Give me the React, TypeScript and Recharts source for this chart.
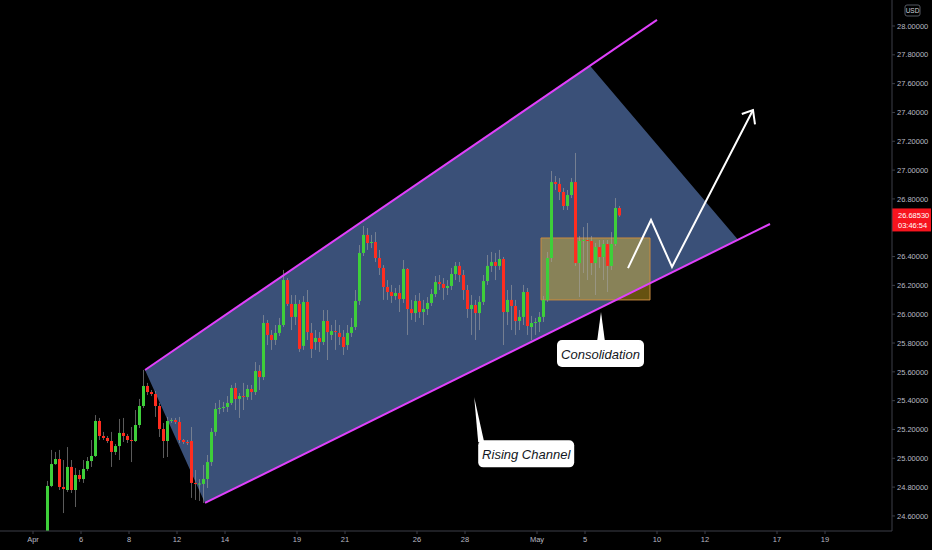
import React from "react";
import {
  ComposedChart,
  Bar,
  Area,
  Line,
  XAxis,
  YAxis,
  ReferenceArea,
  ReferenceLine,
  ReferenceDot,
} from "recharts";

const WIDTH = 932;
const HEIGHT = 550;

const BG = "#000000";
const UP = "#3ecf3a";
const DOWN = "#ff2d1f";
const WICK = "rgba(165,165,165,0.55)";
const CHANNEL = "#e040fb";
const SHADE = "#3a5078";
const AXIS = "#3c3f48";
const TEXT = "#b8bbc4";
const FONT = "'Liberation Sans', Arial, sans-serif";

// 4h bars, six per trading day. First visible bar is number 4.
const firstBar = 4;
const barsPerDay = 6;
// [open, high, low, close]
const bars: [number, number, number, number][] = [
  [24.4, 24.843, 24.38, 24.808],
  [24.808, 25.058, 24.8, 24.96],
  [24.96, 25.044, 24.955, 24.995],
  [24.995, 25.058, 24.78, 24.801],
  [24.801, 24.988, 24.62, 24.787],
  [24.78, 25.078, 24.766, 24.94],
  [24.94, 24.988, 24.759, 24.78],
  [24.78, 24.933, 24.662, 24.884],
  [24.884, 24.919, 24.836, 24.856],
  [24.856, 24.988, 24.829, 24.926],
  [24.926, 25.009, 24.912, 24.981],
  [24.981, 25.127, 24.94, 25.016],
  [25.016, 25.3, 25.009, 25.259],
  [25.259, 25.28, 25.127, 25.155],
  [25.155, 25.183, 25.127, 25.141],
  [25.141, 25.155, 25.106, 25.12],
  [25.12, 25.183, 24.94, 25.044],
  [25.044, 25.099, 25.023, 25.085],
  [25.085, 25.273, 24.988, 25.176],
  [25.176, 25.28, 25.113, 25.155],
  [25.155, 25.169, 25.106, 25.127],
  [25.127, 25.217, 24.974, 25.12],
  [25.12, 25.335, 25.113, 25.231],
  [25.231, 25.412, 25.21, 25.363],
  [25.363, 25.613, 25.349, 25.502],
  [25.502, 25.523, 25.439, 25.46],
  [25.46, 25.474, 25.432, 25.446],
  [25.446, 25.467, 25.287, 25.363],
  [25.363, 25.384, 25.148, 25.203],
  [25.203, 25.245, 25.002, 25.12],
  [25.12, 25.287, 25.009, 25.259],
  [25.259, 25.28, 25.245, 25.266],
  [25.266, 25.28, 25.238, 25.252],
  [25.252, 25.287, 25.106, 25.127],
  [25.127, 25.134, 25.099, 25.113],
  [25.113, 25.127, 25.092, 25.106],
  [25.12, 25.217, 24.725, 24.829],
  [24.829, 24.919, 24.711, 24.822],
  [24.822, 24.856, 24.704, 24.825],
  [24.822, 24.954, 24.69, 24.856],
  [24.856, 25.023, 24.794, 24.974],
  [24.974, 25.21, 24.947, 25.183],
  [25.183, 25.384, 25.155, 25.342],
  [25.342, 25.405, 25.307, 25.349],
  [25.349, 25.391, 25.321, 25.356],
  [25.356, 25.432, 25.321, 25.384],
  [25.384, 25.509, 25.37, 25.488],
  [25.488, 25.523, 25.335, 25.412],
  [25.412, 25.453, 25.28, 25.432],
  [25.432, 25.523, 25.335, 25.425],
  [25.425, 25.509, 25.405, 25.481],
  [25.481, 25.509, 25.405, 25.46],
  [25.46, 25.668, 25.439, 25.606],
  [25.606, 25.647, 25.474, 25.564],
  [25.564, 25.994, 25.543, 25.939],
  [25.939, 25.96, 25.786, 25.856],
  [25.856, 25.89, 25.752, 25.821],
  [25.821, 25.925, 25.786, 25.87],
  [25.87, 25.974, 25.849, 25.925],
  [25.925, 26.307, 25.911, 26.237],
  [26.237, 26.251, 26.057, 26.071],
  [26.071, 26.133, 25.89, 25.981],
  [25.981, 26.133, 25.925, 26.071],
  [26.071, 26.099, 25.738, 25.759],
  [25.78, 26.126, 25.752, 26.085],
  [26.085, 26.168, 25.821, 25.876],
  [25.87, 25.939, 25.696, 25.759],
  [25.807, 25.89, 25.752, 25.835],
  [25.835, 25.876, 25.738, 25.807],
  [25.807, 26.029, 25.786, 25.953],
  [25.953, 26.029, 25.682, 25.876],
  [25.856, 25.925, 25.821, 25.883],
  [25.883, 25.96, 25.752, 25.876],
  [25.87, 25.925, 25.786, 25.842],
  [25.842, 25.89, 25.717, 25.772],
  [25.786, 25.925, 25.752, 25.87],
  [25.87, 25.974, 25.842, 25.911],
  [25.911, 26.168, 25.89, 26.092],
  [26.092, 26.48, 26.064, 26.425],
  [26.425, 26.612, 26.404, 26.55],
  [26.55, 26.598, 26.446, 26.494],
  [26.494, 26.55, 26.459, 26.501],
  [26.501, 26.57, 26.362, 26.39],
  [26.39, 26.446, 26.272, 26.321],
  [26.321, 26.341, 26.099, 26.189],
  [26.189, 26.237, 26.099, 26.154],
  [26.154, 26.203, 26.078, 26.126],
  [26.126, 26.182, 26.099, 26.147],
  [26.147, 26.203, 26.015, 26.105],
  [26.105, 26.376, 26.078, 26.314],
  [26.314, 26.321, 25.856, 26.036],
  [26.036, 26.099, 25.96, 26.008],
  [26.008, 26.133, 25.946, 26.092],
  [26.092, 26.147, 25.974, 26.015],
  [26.015, 26.099, 25.925, 26.036],
  [26.036, 26.119, 25.994, 26.078],
  [26.078, 26.175, 26.057, 26.14],
  [26.14, 26.265, 26.119, 26.223],
  [26.223, 26.272, 26.168, 26.21],
  [26.21, 26.251, 26.099, 26.182],
  [26.182, 26.237, 26.133, 26.196],
  [26.196, 26.321, 26.168, 26.279],
  [26.279, 26.362, 26.237, 26.335],
  [26.335, 26.362, 26.223, 26.272],
  [26.272, 26.307, 26.099, 26.168],
  [26.168, 26.203, 25.974, 26.036],
  [26.036, 26.133, 25.856, 26.064],
  [26.064, 26.099, 25.821, 26.008],
  [26.008, 26.126, 25.89, 26.085],
  [26.085, 26.272, 26.064, 26.23],
  [26.23, 26.411, 26.203, 26.335],
  [26.335, 26.432, 26.293, 26.362],
  [26.362, 26.425, 26.237, 26.335],
  [26.335, 26.446, 26.307, 26.383],
  [26.383, 26.397, 25.786, 26.015],
  [26.015, 26.168, 25.925, 26.099],
  [26.099, 26.203, 25.89, 26.057],
  [26.057, 26.099, 25.856, 25.953],
  [25.953, 26.029, 25.89, 25.981],
  [25.981, 26.203, 25.925, 26.154],
  [26.154, 26.182, 25.856, 25.918],
  [25.911, 25.988, 25.821, 25.939],
  [25.939, 25.974, 25.856, 25.946],
  [25.946, 26.015, 25.876, 25.981],
  [25.981, 26.126, 25.946, 26.099],
  [26.099, 26.432, 26.085, 26.39],
  [26.39, 26.994, 26.362, 26.917],
  [26.917, 26.959, 26.862, 26.904],
  [26.904, 26.945, 26.792, 26.848],
  [26.848, 26.876, 26.723, 26.751],
  [26.751, 26.862, 26.723, 26.827],
  [26.827, 26.945, 26.806, 26.917],
  [26.917, 27.119, 26.335, 26.355],
  [26.355, 26.543, 26.119, 26.508],
  [26.508, 26.605, 26.286, 26.515],
  [26.515, 26.633, 26.237, 26.508],
  [26.508, 26.543, 26.272, 26.355],
  [26.355, 26.494, 26.133, 26.466],
  [26.466, 26.515, 26.321, 26.397],
  [26.397, 26.515, 26.237, 26.487],
  [26.487, 26.515, 26.154, 26.335],
  [26.335, 26.57, 26.307, 26.487],
  [26.487, 26.806, 26.473, 26.737],
  [26.737, 26.751, 26.675, 26.6853],
];

const lastPrice = 26.6853;
const countdown = "03:46:54";

// trading-day numbers (from Apr 1) that carry a date label
const tickDays = [0, 2, 4, 6, 8, 11, 13, 16, 18, 21, 23, 26, 28, 31, 33];
const tickLabels = ["Apr", "6", "8", "12", "14", "19", "21", "26", "28", "May", "5", "10", "12", "17", "19"];

const priceTicks = [
  28.0, 27.8, 27.6, 27.4, 27.2, 27.0, 26.8, 26.4, 26.2, 26.0, 25.8, 25.6, 25.4, 25.2, 25.0, 24.8, 24.6,
];

// drawings, as [bar index, price]
const upperLine: [number, number][] = [[28.5, 25.613], [156.5, 28.042]];
const lowerLine: [number, number][] = [[43.5, 24.69], [184.75, 26.626]];
const shadeTopEnd = 139.75;
const shadeRightEnd = 176.75;

const boxBars = [127.5, 154.75];
const boxPrices = [26.099, 26.529];

const projection: [number, number][] = [[149.25, 26.32], [155, 26.654], [160.25, 26.328], [180.5, 27.417]];
const arrowHead: [number, number][] = [[177.7, 27.389], [180.5, 27.417], [181, 27.318]];

const consolidationTip: [number, number] = [142.5, 26.015];
const channelTip: [number, number] = [110.8, 25.423];

const candles = bars.map(([o, h, l, c], k) => ({ i: firstBar + k, o, h, l, c, range: [l, h] }));

const onLine = (line: [number, number][], i: number) =>
  line[0][1] + ((i - line[0][0]) * (line[1][1] - line[0][1])) / (line[1][0] - line[0][0]);

const shade = [
  { i: upperLine[0][0], band: [upperLine[0][1], upperLine[0][1]] },
  { i: lowerLine[0][0], band: [lowerLine[0][1], onLine(upperLine, lowerLine[0][0])] },
  { i: shadeTopEnd, band: [onLine(lowerLine, shadeTopEnd), onLine(upperLine, shadeTopEnd)] },
  { i: shadeRightEnd, band: [onLine(lowerLine, shadeRightEnd), onLine(lowerLine, shadeRightEnd)] },
];

const toPts = (arr: [number, number][]) => arr.map(([i, p]) => ({ i, p }));

function Candle(props: any) {
  const { x, width, y, height, payload } = props;
  if (payload == null || !isFinite(y)) return null;
  const { o, h, l, c } = payload;
  const cx = Math.round(x + width / 2);
  const span = h - l || 1;
  const py = (v: number) => y + ((h - v) / span) * height;
  const top = py(Math.max(o, c));
  const bot = py(Math.min(o, c));
  return (
    <g>
      <line x1={cx + 0.5} x2={cx + 0.5} y1={y} y2={y + height} stroke={WICK} strokeWidth={1} />
      <rect x={cx - 1} y={top} width={3} height={Math.max(bot - top, 1)} fill={c >= o ? UP : DOWN} />
    </g>
  );
}

function PointerUp(props: any) {
  const { cx, cy } = props;
  const bx = cx - 44;
  const by = cy + 28;
  return (
    <g>
      <polygon points={`${cx},${cy} ${cx - 4},${by + 2} ${cx + 4},${by + 2}`} fill="#ffffff" />
      <rect x={bx} y={by} width={87} height={27} rx={5} fill="#ffffff" />
      <text x={bx + 43.5} y={by + 14} textAnchor="middle" dominantBaseline="central" fontStyle="italic"
        fontSize={13} fontFamily={FONT} fill="#131722">Consolidation</text>
    </g>
  );
}

function PointerLeft(props: any) {
  const { cx, cy } = props;
  const bx = cx + 4;
  const by = cy + 43;
  return (
    <g>
      <polygon points={`${cx},${cy} ${cx + 4},${by + 2} ${cx + 10},${by + 2}`} fill="#ffffff" />
      <rect x={bx} y={by} width={96} height={27} rx={5} fill="#ffffff" />
      <text x={bx + 48} y={by + 14} textAnchor="middle" dominantBaseline="central" fontStyle="italic"
        fontSize={13} fontFamily={FONT} fill="#131722">Rising Channel</text>
    </g>
  );
}

function PriceTag(props: any) {
  const vb = props.viewBox || {};
  const x = (vb.x || 0) + (vb.width || 0);
  const y = vb.y || 0;
  return (
    <g>
      <rect x={x} y={y - 7} width={39} height={23} fill="#f7141e" />
      <text x={x + 6} y={y} dominantBaseline="central" fontSize={7.5} fontFamily={FONT} fill="#ffffff">
        {lastPrice.toFixed(5)}
      </text>
      <text x={x + 6} y={y + 10} dominantBaseline="central" fontSize={7.5} fontFamily={FONT} fill="#ffffff">
        {countdown}
      </text>
    </g>
  );
}

function UsdTag(props: any) {
  const vb = props.viewBox || {};
  const x = (vb.x || 0) + 13;
  const y = 5;
  return (
    <g>
      <rect x={x} y={y} width={15} height={11} rx={2} fill="#000" stroke="#555962" />
      <text x={x + 7.5} y={y + 5.5} textAnchor="middle" dominantBaseline="central" fontSize={6.5}
        fontFamily={FONT} fill="#d1d4dc">USD</text>
    </g>
  );
}

export default function App() {
  return (
    <div style={{ position: "absolute", left: 0, top: 0, width: WIDTH, height: HEIGHT, background: BG }}>
      <ComposedChart width={WIDTH} height={HEIGHT} data={candles} margin={{ top: 0, right: 0, bottom: 0, left: 0 }}>
        <XAxis
          dataKey="i"
          type="number"
          domain={[-7.75, 215.25]}
          allowDataOverflow
          ticks={tickDays.map((d) => d * barsPerDay + 0.5)}
          tickFormatter={(v: number) => tickLabels[tickDays.indexOf((v - 0.5) / barsPerDay)]}
          interval={0}
          height={19}
          tickSize={3}
          tickMargin={3}
          axisLine={{ stroke: AXIS }}
          tickLine={{ stroke: AXIS }}
          tick={{ fill: TEXT, fontSize: 7.5, fontFamily: FONT }}
        />
        <YAxis
          orientation="right"
          type="number"
          domain={[24.4955, 28.1804]}
          allowDataOverflow
          ticks={priceTicks}
          tickFormatter={(v: number) => v.toFixed(5)}
          interval={0}
          width={40}
          tickSize={3}
          tickMargin={2}
          axisLine={{ stroke: AXIS }}
          tickLine={{ stroke: AXIS }}
          tick={{ fill: TEXT, fontSize: 7.5, fontFamily: FONT, textAnchor: "start" }}
          label={<UsdTag />}
        />
        <Area
          data={shade}
          dataKey="band"
          type="linear"
          stroke="none"
          fill={SHADE}
          fillOpacity={1}
          dot={false}
          activeDot={false}
          isAnimationActive={false}
        />
        <ReferenceLine
          segment={[{ x: upperLine[0][0], y: upperLine[0][1] }, { x: upperLine[1][0], y: upperLine[1][1] }]}
          stroke={CHANNEL}
          strokeWidth={2}
        />
        <ReferenceLine
          segment={[{ x: lowerLine[0][0], y: lowerLine[0][1] }, { x: lowerLine[1][0], y: lowerLine[1][1] }]}
          stroke={CHANNEL}
          strokeWidth={2}
        />
        <ReferenceArea
          x1={boxBars[0]}
          x2={boxBars[1]}
          y1={boxPrices[0]}
          y2={boxPrices[1]}
          fill="rgba(255,205,40,0.4)"
          fillOpacity={1}
          stroke="#c98a3e"
          strokeWidth={1}
        />
        <Bar dataKey="range" isAnimationActive={false} activeBar={false} shape={(p: any) => <Candle {...p} />} />
        <Line
          data={toPts(projection)}
          dataKey="p"
          type="linear"
          stroke="#ffffff"
          strokeWidth={2}
          dot={false}
          activeDot={false}
          isAnimationActive={false}
        />
        <Line
          data={toPts(arrowHead)}
          dataKey="p"
          type="linear"
          stroke="#ffffff"
          strokeWidth={2}
          dot={false}
          activeDot={false}
          isAnimationActive={false}
        />
        <ReferenceDot x={consolidationTip[0]} y={consolidationTip[1]} r={1} shape={(p: any) => <PointerUp {...p} />} />
        <ReferenceDot x={channelTip[0]} y={channelTip[1]} r={1} shape={(p: any) => <PointerLeft {...p} />} />
        <ReferenceLine y={lastPrice} stroke="none" label={<PriceTag />} />
      </ComposedChart>
    </div>
  );
}
